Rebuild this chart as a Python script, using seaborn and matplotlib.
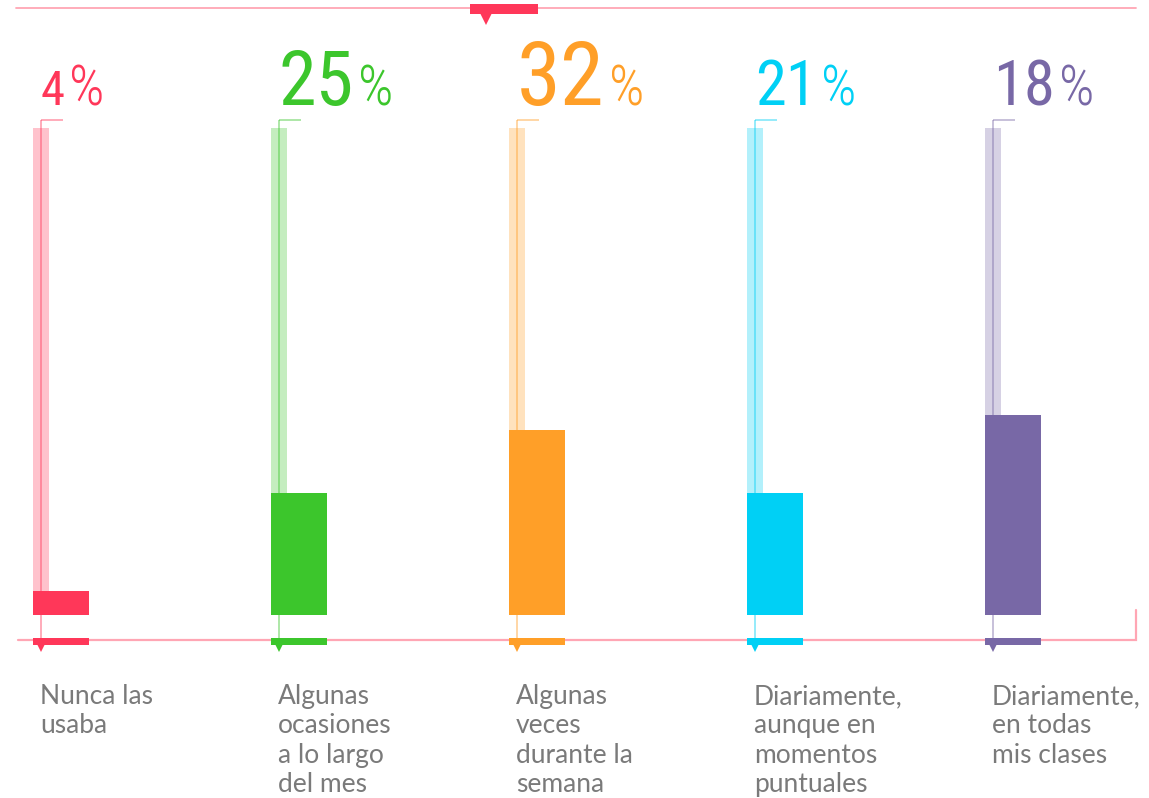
import numpy as np
import pandas as pd
import matplotlib
matplotlib.use("Agg")
import matplotlib.pyplot as plt
from matplotlib import font_manager
import seaborn as sns

# ---------------- data ----------------
categories = [
    "Nunca las\nusaba",
    "Algunas\nocasiones\na lo largo\ndel mes",
    "Algunas\nveces\ndurante la\nsemana",
    "Diariamente,\naunque en\nmomentos\npuntuales",
    "Diariamente,\nen todas\nmis clases",
]
percent_labels = [4, 25, 32, 21, 18]
bar_values = [5, 25, 38, 25, 41]          # bar heights as drawn (scale 0-100)
track_max = [100, 100, 100, 100, 100]     # pale background track
colors = ["#ff3759", "#3cc62c", "#ff9f28", "#00d0f5", "#7868a6"]
number_sizes = [35, 55, 64, 45, 45]

# ---------------- geometry helpers (figure pixels -> data) ----------------
W, H = 1149, 798
X0, DX = 61.0, 238.0          # pixel centre of first bar, spacing
Y0, SY = 615.0, 4.87          # pixel of value 0, pixels per unit


def px2x(px):
    return (px - X0) / DX


def px2y(py):
    return (Y0 - py) / SY


sns.set_theme(style="white")
fm = font_manager.fontManager.ttflist
names = {f.name for f in fm}
cond_candidates = ["Roboto Condensed", "Open Sans Condensed", "Noto Sans Condensed",
                   "DejaVu Sans Condensed", "Liberation Sans Narrow"]
num_font = None
num_stretch = "normal"
for cand in cond_candidates:
    if cand in names:
        num_font = cand
        break
if num_font is None:
    cond = [f for f in fm if f.stretch in ("condensed", "semi-condensed", "extra-condensed")
            or (isinstance(f.stretch, int) and f.stretch < 500)]
    if cond:
        num_font = cond[0].name
        num_stretch = "condensed"
    else:
        num_font = "DejaVu Sans"
lab_font = "Lato" if "Lato" in names else "DejaVu Sans"

fig = plt.figure(figsize=(W / 100, H / 100), dpi=100)
fig.patch.set_facecolor("white")
ax = fig.add_axes([0, 0, 1, 1])

df = pd.DataFrame({"cat": categories, "val": bar_values})
bar_w = 56 / DX
track_w = 16 / DX
track_off = (bar_w - track_w) / 2.0
x = np.arange(len(categories))

# pale tracks
ax.bar(x - track_off, track_max, width=track_w, color=colors, alpha=0.3,
       linewidth=0, zorder=1)

# main bars via seaborn
sns.barplot(data=df, x="cat", y="val", hue="cat", palette=colors, legend=False,
            width=bar_w, saturation=1, ax=ax, zorder=3, linewidth=0)

line_col = "#ffa6b4"
# thin vertical guide lines + brackets
for i, c in enumerate(colors):
    cx = i - track_off
    ax.plot([cx, cx], [px2y(640), px2y(120)], color=c, alpha=0.45, lw=1.3,
            zorder=2, solid_capstyle="butt")
    ax.plot([cx, cx + 22 / DX], [px2y(120), px2y(120)], color=c, alpha=0.45,
            lw=1.3, zorder=2, solid_capstyle="butt")

# baseline + right tick, top line
ax.plot([px2x(18), px2x(1136), px2x(1136)], [px2y(640), px2y(640), px2y(610)],
        color=line_col, lw=1.6, zorder=2, solid_joinstyle="miter")
ax.plot([px2x(16), px2x(1136)], [px2y(8), px2y(8)], color=line_col, lw=1.3,
        zorder=2)

# small marker bars on baseline with down triangles
for i, c in enumerate(colors):
    ax.bar(i, px2y(638) - px2y(645), bottom=px2y(645), width=bar_w, color=c,
           linewidth=0, zorder=4)
    ax.plot(i - track_off, px2y(648), marker="v", color=c, markersize=6,
            markeredgewidth=0, zorder=4)

# top marker
ax.bar(px2x(504), px2y(4) - px2y(14), bottom=px2y(14), width=68 / DX,
       color="#ff3759", linewidth=0, zorder=4)
ax.plot(px2x(486), px2y(17), marker="v", color="#ff3759", markersize=11,
        markeredgewidth=0, zorder=4)

ax.set_xlim(px2x(0), px2x(W))
ax.set_ylim(px2y(H), px2y(0))
ax.axis("off")

# percentage labels
renderer = fig.canvas.get_renderer()
inv = ax.transData.inverted()
for i, (p, c, fs) in enumerate(zip(percent_labels, colors, number_sizes)):
    lx = i - track_off
    t = ax.text(lx, px2y(105), f"{p}", color=c, fontsize=fs, family=num_font,
                fontstretch=num_stretch, fontweight="normal",
                ha="left", va="baseline", zorder=5)
    bb = t.get_window_extent(renderer=renderer)
    rx = inv.transform((bb.x1 + 4, 0))[0]
    ax.text(rx, px2y(105), "%", color=c, fontsize=40, family=num_font,
            fontstretch=num_stretch, fontweight="light",
            ha="left", va="baseline", zorder=5)

# category labels
for i, lab in enumerate(categories):
    ax.text(i - track_off - 1 / DX, px2y(684), lab, color="#7a7a7a", fontsize=19,
            family=lab_font, fontweight="normal", ha="left", va="top",
            linespacing=1.22)

fig.savefig("out.png", dpi=100, facecolor="white")
